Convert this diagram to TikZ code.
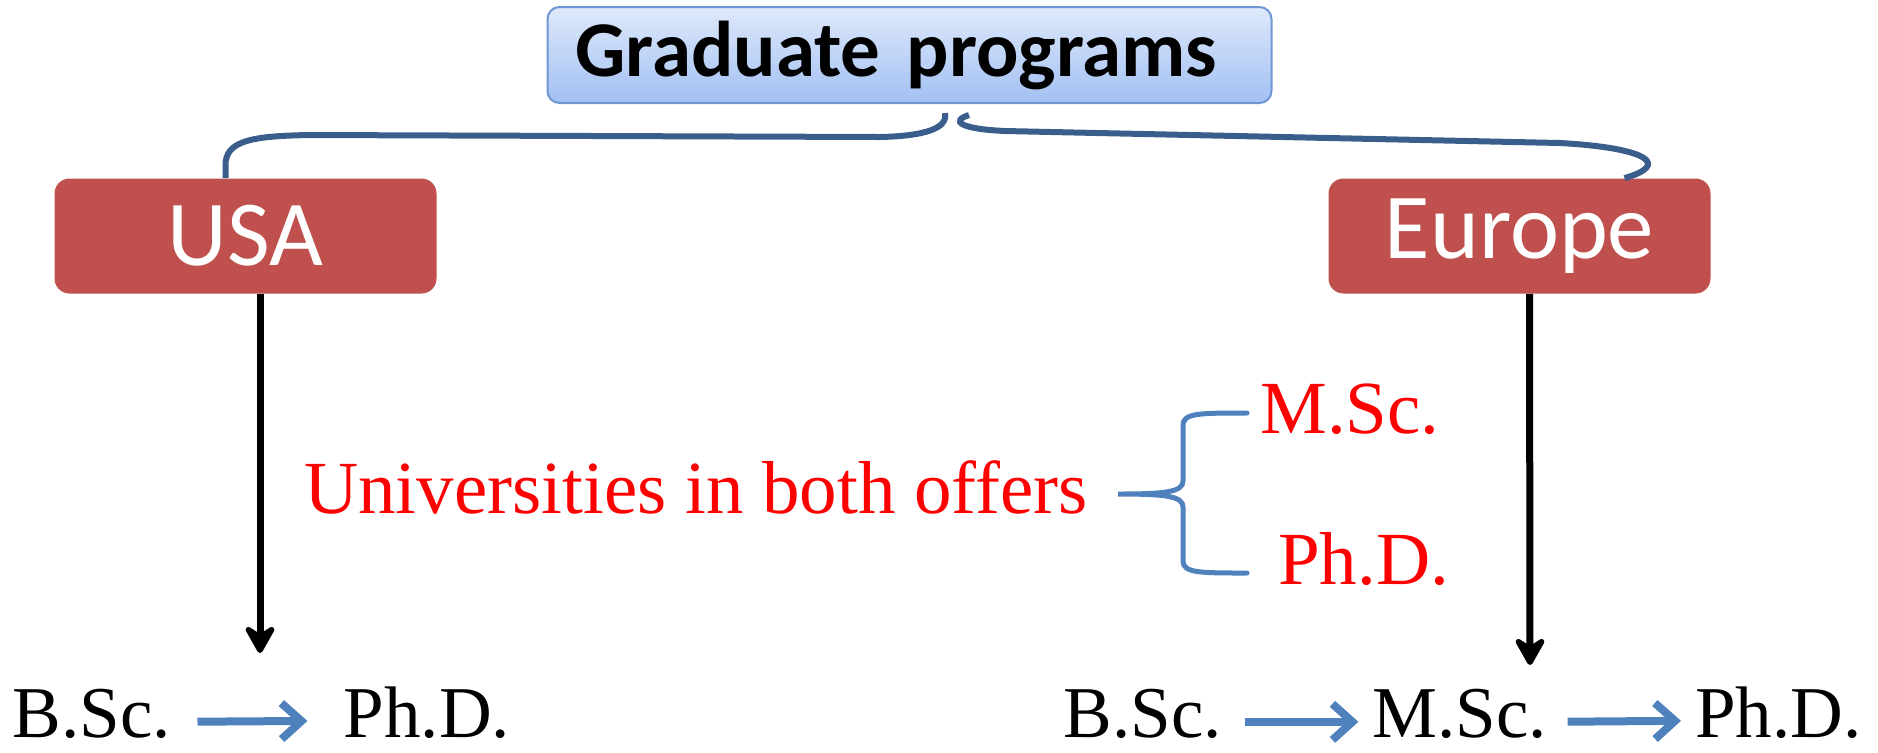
\documentclass[tikz,border=0pt]{standalone}
\usepackage{fontspec}
\setmainfont{Liberation Serif}
\newfontfamily\carlito{Carlito}
\usepackage{xcolor}
\usetikzlibrary{positioning,arrows.meta}

\definecolor{boxred}{RGB}{192,80,77}
\definecolor{titletop}{RGB}{222,233,251}
\definecolor{titlebot}{RGB}{162,192,243}
\definecolor{titleline}{RGB}{112,150,212}
\definecolor{bracedark}{RGB}{58,94,140}
\definecolor{flowblue}{RGB}{79,129,189}

\begin{document}
\begin{tikzpicture}[x=0.5pt, y=-0.5pt,
    country/.style={fill=boxred, rounded corners=7.5pt, minimum width=191pt,
        minimum height=57.5pt, text=white, font=\carlito\fontsize{46.5}{46.5}\selectfont},
    degree/.style={anchor=base, inner sep=0pt, font=\fontsize{36.5}{36.5}\selectfont},
    offer/.style={degree, text=red, font=\fontsize{37.5}{37.5}\selectfont},
    flow/.style={flowblue, line width=4pt, -{Straight Barb[length=10pt, width=18pt]}},
    drop/.style={black, line width=3.5pt, -{Stealth[length=17pt, width=19pt, inset=6pt, round]}},
    bigbrace/.style={bracedark, line width=3pt},
    smallbrace/.style={flowblue, line width=2.5pt, line cap=round}]
\useasboundingbox (0,0) rectangle (1878,752);

% heading and the two systems
\node[draw=titleline, line width=1pt, top color=titletop, bottom color=titlebot,
    rounded corners=6pt, inner xsep=14pt, text width=334pt, align=left, minimum height=48pt,
    font=\carlito\bfseries\fontsize{39.5}{39.5}\selectfont] (title) at (909.5,55) {Graduate programs};
\node[country] (usa) at (245.5,236) {USA};
\node[country] (europe) at (1519.5,236) {Europe};

% brace from the heading down to both boxes
\coordinate (tipL) at (945,113);
\coordinate (tipR) at (969,115);
\draw[bigbrace] ([xshift=-10pt]usa.north) -- ++(0,-12)
    .. controls (225,141) and (250,136) .. (310,135) -- (880,137)
    .. controls (926,136) and (948,128) .. (tipL);
\draw[bigbrace] (tipR) .. controls (950,121) and (960,129) .. (1005,131)
    -- (1560,143) .. controls (1650,148) and (1670,165) .. ([xshift=52.5pt]europe.north);

% USA path
\coordinate (usaend) at (260,653);
\draw[drop] ([xshift=7.25pt]usa.south) -- (usaend);
\node[degree] (bscU) at (92,737) {B.Sc.};
\node[degree] (phdU) at (427,737) {Ph.D.};
\draw[flow, shorten <=13pt, shorten >=18pt] ([yshift=-4.25pt]bscU.east) -- ([yshift=-4.25pt]phdU.west);

% Europe path
\coordinate (eurend) at (1530,665);
\draw[drop] ([xshift=5pt]europe.south) -- (eurend);
\node[degree] (bscE) at (1143,737) {B.Sc.};
\node[degree] (mscE) at (1460,737) {M.Sc.};
\node[degree] (phdE) at (1778.5,737) {Ph.D.};
\draw[flow, shorten <=11pt, shorten >=7pt] ([yshift=-4.25pt]bscE.east) -- ([yshift=-4.25pt]mscE.west);
\draw[flow, shorten <=10pt, shorten >=7pt] ([yshift=-4.25pt]mscE.east) -- ([yshift=-4.25pt]phdE.west);

% both offers
\node[offer] (univ) at (696,513) {Universities in both offers};
\node[offer] (mscR) at (1350,433) {M.Sc.};
\node[offer] (phdR) at (1363.5,584) {Ph.D.};
\coordinate (offertip) at (1118,494);
\draw[smallbrace] (1247,413) .. controls (1200,413) and (1183,413) .. (1183,425)
    -- (1183,481) .. controls (1183,492) and (1165,494) .. (offertip)
    .. controls (1165,494) and (1183,496) .. (1183,507)
    -- (1183,561) .. controls (1183,573) and (1200,573) .. (1247,573);
\end{tikzpicture}
\end{document}
